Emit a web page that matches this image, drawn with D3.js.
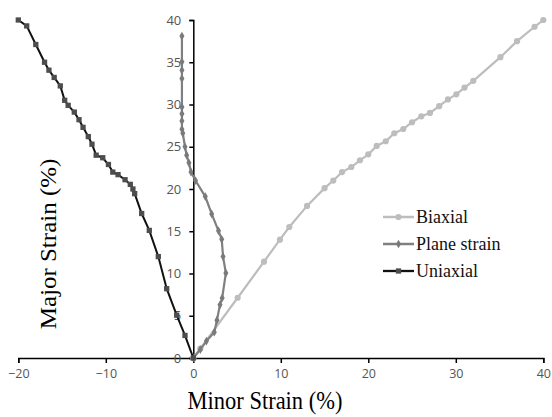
<!DOCTYPE html>
<html>
<head>
<meta charset="utf-8">
<script src="https://cdn.jsdelivr.net/npm/d3@7"></script>
<style>
  body { margin: 0; background: #fff; }
</style>
</head>
<body>
<svg id="chart" width="552" height="417"></svg>
<script>
// strain data
let biaxialX = [0, 0.8, 5.07, 8.08, 9.9, 10.97, 13.0, 15.0, 16.0, 17.0, 18.06, 19.05, 20.0, 20.96, 22.0, 22.97, 24.0, 25.0, 26.06, 27.05, 28.1, 29.1, 30.06, 31.0, 32.0, 35.1, 37.0, 39.0, 40.0];
let biaxialY = [0, 1.1, 7.13, 11.4, 14.0, 15.5, 18.0, 20.1, 21.0, 22.0, 22.6, 23.4, 24.1, 25.1, 25.65, 26.6, 27.1, 27.9, 28.6, 29.0, 29.8, 30.6, 31.2, 32.0, 32.8, 35.6, 37.5, 39.2, 40.0];

let planeX = [0, 0.8, 1.5, 2.4, 2.7, 3.05, 3.3, 3.72, 3.4, 3.25, 2.88, 2.1, 1.37, 0.25, -0.26, -0.5, -0.76, -0.95, -1.2, -1.3, -1.3, -1.3, -1.3, -1.3, -1.3, -1.3, -1.3];
let planeY = [0, 1.0, 2.0, 3.06, 4.47, 6.3, 7.1, 10.05, 12.0, 14.05, 15.05, 17.05, 19.1, 21.0, 22.0, 23.1, 24.0, 25.0, 26.6, 27.07, 28.06, 28.9, 29.7, 33.07, 34.06, 35.05, 38.1];

let uniX = [-20.0, -19.04, -18.0, -17.0, -16.5, -15.9, -15.2, -14.7, -14.3, -13.6, -13.06, -12.6, -12.0, -11.58, -11.1, -10.35, -9.7, -9.2, -8.6, -7.8, -7.2, -6.9, -6.7, -5.9, -5.03, -4.0, -3.04, -1.9, -0.95, 0];
let uniY = [40.0, 39.3, 37.1, 35.0, 34.06, 33.2, 32.2, 30.5, 29.9, 29.1, 28.2, 27.3, 26.2, 25.3, 24.0, 23.7, 22.9, 22.0, 21.7, 21.1, 20.55, 20.0, 19.45, 17.1, 15.1, 12.0, 8.2, 5.07, 2.67, 0];

let xTicks = [-20, -10, 0, 10, 20, 30, 40];
let yTicks = [0, 5, 10, 15, 20, 25, 30, 35, 40];
let seriesNames = ["Biaxial", "Plane strain", "Uniaxial"];

let svg = d3.select("#chart");

let xScale = d3.scaleLinear().domain([-20, 40]).range([18.3, 543.3]),
    yScale = d3.scaleLinear().domain([0, 40]).range([358, 20]);

let zip = (xs, ys) => xs.map((x, i) => [x, ys[i]]);

let series = [
    {name: seriesNames[0], pts: zip(biaxialX, biaxialY), line: "#bdbdbd", mark: "#bdbdbd", sym: d3.symbolCircle, size: 30, width: 2.2},
    {name: seriesNames[1], pts: zip(planeX, planeY), line: "#808080", mark: "#7a7a7a", sym: d3.symbolDiamond, size: 22, width: 2.2},
    {name: seriesNames[2], pts: zip(uniX, uniY), line: "#111", mark: "#4d4d4d", sym: d3.symbolSquare, size: 28, width: 2}
];

// x axis
let xAxis = svg.append("g")
    .attr("transform", "translate(0," + yScale(0) + ")")
    .call(d3.axisBottom(xScale).tickValues(xTicks).tickSize(5).tickPadding(6));
xAxis.select(".domain").attr("stroke", "#000").attr("stroke-width", 1.5);
xAxis.selectAll(".tick line").attr("stroke", "#000").attr("stroke-width", 1.5);
xAxis.selectAll("text")
    .style("font-family", "Open Sans")
    .style("font-size", "12.5px")
    .attr("fill", "#555");

// y axis
let yAxis = svg.append("g")
    .attr("transform", "translate(" + xScale(0) + ",0)")
    .call(d3.axisLeft(yScale).tickValues(yTicks).tickSize(4).tickPadding(8));
yAxis.select(".domain").attr("stroke", "#000").attr("stroke-width", 1.5);
yAxis.selectAll(".tick line").attr("stroke", "#000").attr("stroke-width", 1.5);
yAxis.selectAll("text")
    .style("font-family", "Open Sans")
    .style("font-size", "13px")
    .attr("fill", "#555");

let line = d3.line()
    .x(d => xScale(d[0]))
    .y(d => yScale(d[1]));

series.forEach(s => {
    svg.append("path")
        .datum(s.pts)
        .attr("d", line)
        .attr("fill", "none")
        .attr("stroke", s.line)
        .attr("stroke-width", s.width);

    svg.append("g")
        .selectAll("path")
        .data(s.pts)
        .enter()
        .append("path")
        .attr("d", d3.symbol().type(s.sym).size(s.size))
        .attr("transform", d => "translate(" + xScale(d[0]) + "," + yScale(d[1]) + ")")
        .attr("fill", s.mark);
});

// legend
let legend = svg.append("g").attr("transform", "translate(383,217)");
series.forEach((s, i) => {
    let row = legend.append("g").attr("transform", "translate(0," + (i * 27) + ")");
    row.append("line")
        .attr("x1", 0).attr("x2", 31)
        .attr("stroke", s.line)
        .attr("stroke-width", s.width + 0.3);
    row.append("path")
        .attr("d", d3.symbol().type(s.sym).size(s.size))
        .attr("transform", "translate(15.5,0)")
        .attr("fill", s.mark);
    row.append("text")
        .attr("x", 33)
        .attr("y", 6)
        .style("font-family", "Liberation Serif")
        .style("font-size", "18px")
        .attr("transform", "scale(1,1)")
        .attr("fill", "#111")
        .text(s.name);
});

// axis titles (picture is a bit squeezed sideways)
svg.append("text")
    .attr("transform", "translate(265,409) scale(0.9,1)")
    .attr("text-anchor", "middle")
    .style("font-family", "Liberation Serif")
    .style("font-size", "25px")
    .attr("fill", "#000")
    .text("Minor Strain (%)");

svg.append("text")
    .attr("transform", "translate(56,244) rotate(-90) scale(1,0.9)")
    .attr("text-anchor", "middle")
    .style("font-family", "Liberation Serif")
    .style("font-size", "25px")
    .attr("fill", "#000")
    .text("Major Strain (%)");
</script>
</body>
</html>
